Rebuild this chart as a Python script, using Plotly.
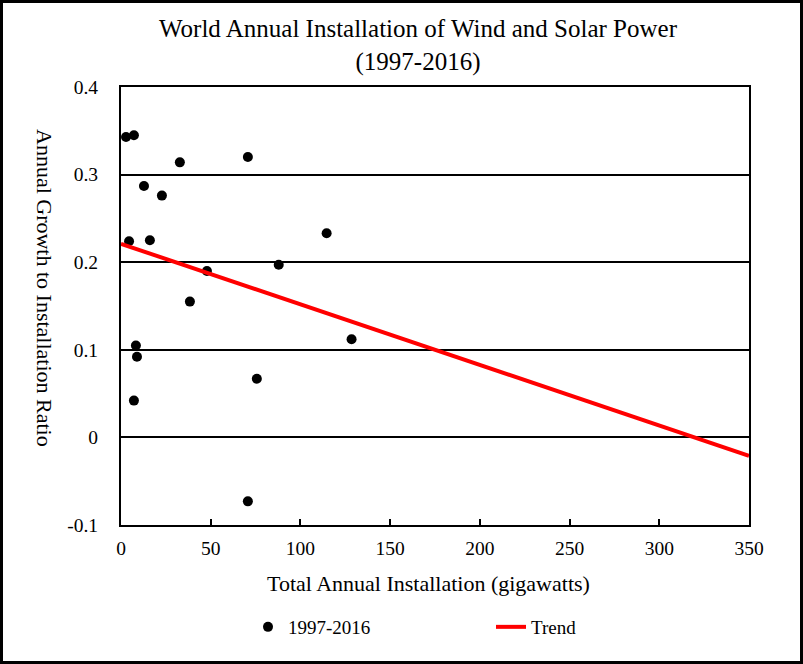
import plotly.graph_objects as go

# Data
install_gw = [2.8, 7.2, 32.8, 70.7, 12.8, 22.8, 4.5, 16.1, 47.9, 87.9,
              114.6, 38.4, 128.5, 8.3, 8.9, 7.2, 75.7, 70.7]
growth_ratio = [0.343, 0.345, 0.314, 0.320, 0.287, 0.276, 0.224, 0.225, 0.190, 0.197,
                0.233, 0.155, 0.112, 0.105, 0.092, 0.042, 0.067, -0.073]
trend_x = [0, 350]
trend_y = [0.221, -0.021]

x_ticks = [0, 50, 100, 150, 200, 250, 300, 350]
y_ticks = [-0.1, 0, 0.1, 0.2, 0.3, 0.4]
y_ticktext = ["-0.1", "0", "0.1", "0.2", "0.3", "0.4"]

FONT = "Liberation Serif, Times New Roman, serif"

W, H = 803, 664
L, R, T, B = 121, 749, 87, 525
pw, ph = R - L, B - T

def px_x(p):
    return (p - L) / pw

def px_y(p):
    return (B - p) / ph

fig = go.Figure()
fig.add_trace(go.Scatter(
    x=install_gw, y=growth_ratio, mode="markers", name="1997-2016",
    marker=dict(color="black", size=10), cliponaxis=False))
fig.add_trace(go.Scatter(
    x=trend_x, y=trend_y, mode="lines", name="Trend",
    line=dict(color="#ff0000", width=4)))

fig.update_layout(
    width=W, height=H,
    margin=dict(l=L, r=W - R, t=T, b=H - B),
    paper_bgcolor="white", plot_bgcolor="white",
    font=dict(family=FONT, color="black", size=20),
    showlegend=True,
    legend=dict(orientation="h", x=px_x(248), xanchor="left",
                y=px_y(627), yanchor="middle",
                entrywidth=198, entrywidthmode="pixels",
                font=dict(size=19, family=FONT), bgcolor="rgba(0,0,0,0)"),
    xaxis=dict(range=[0, 350], tickvals=x_ticks, ticks="inside", ticklen=6,
               tickwidth=2, tickcolor="black", showgrid=False, zeroline=False,
               showline=True, linecolor="black", linewidth=2, mirror=True,
               tickfont=dict(size=19.5), ticklabelstandoff=5),
    yaxis=dict(range=[-0.1, 0.4], tickvals=y_ticks, ticktext=y_ticktext,
               ticks="", showgrid=True, gridcolor="black", gridwidth=2,
               zeroline=False, showline=True, linecolor="black", linewidth=2,
               mirror=True, tickfont=dict(size=19.5), ticklabelstandoff=17),
    annotations=[
        dict(text="World Annual Installation of Wind and Solar Power<br>(1997-2016)",
             xref="paper", yref="paper", x=px_x(418), y=px_y(45),
             xanchor="center", yanchor="middle", showarrow=False,
             font=dict(size=25, family=FONT)),
        dict(text="Total Annual Installation (gigawatts)",
             xref="paper", yref="paper", x=px_x(428), y=px_y(583),
             xanchor="center", yanchor="middle", showarrow=False,
             font=dict(size=22, family=FONT)),
        dict(text="Annual Growth to Installation Ratio",
             xref="paper", yref="paper", x=px_x(45), y=px_y(288),
             xanchor="center", yanchor="middle", showarrow=False, textangle=90,
             font=dict(size=22, family=FONT)),
    ],
    shapes=[dict(type="rect", xref="paper", yref="paper",
                 x0=px_x(1.5), x1=px_x(801.5), y0=px_y(662.5), y1=px_y(1.5),
                 line=dict(color="black", width=3), fillcolor="rgba(0,0,0,0)",
                 layer="above")],
)

fig.write_html("out.html", config={"displayModeBar": False},
               post_script="document.body.style.margin='0px';")
